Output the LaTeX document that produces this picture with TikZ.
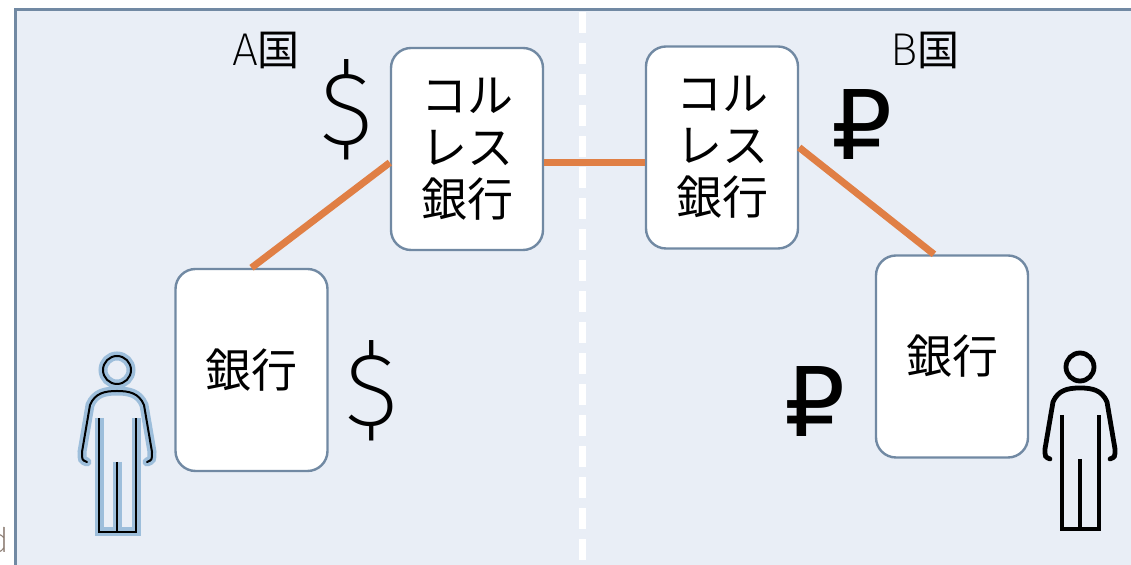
\documentclass[tikz,border=0pt]{standalone}
\usepackage{fontspec}
\setmainfont{Noto Sans CJK JP}
\newfontfamily\rublefont{DejaVu Sans}
\newfontfamily\thinfont{Fira Sans}[UprightFont=* ExtraLight]
\usepackage{tikz}
\usepackage{xcolor}
\definecolor{panelfill}{HTML}{E9EEF6}
\definecolor{panelline}{HTML}{7189A3}
\definecolor{linkorange}{HTML}{E07F45}
\definecolor{glowblue}{HTML}{9DBEDB}
\definecolor{cutgrey}{HTML}{8A7A70}
\tikzset{
  bankbox/.style={draw=panelline, line width=1.2pt, fill=white, rounded corners=10pt,
    minimum width=76pt, minimum height=101pt, align=center,
    font=\fontsize{23}{26}\selectfont},
  link/.style={linkorange, line width=3.5pt},
  money/.style={inner sep=0pt, font=\thinfont\fontsize{52}{52}\selectfont},
  ruble/.style={inner sep=0pt, font=\rublefont\fontsize{48}{48}\selectfont},
  country/.style={inner sep=0pt, font=\fontsize{21}{21}\selectfont}
}
\newcommand{\personpath}[1]{
  \draw[#1] (0,0) circle (14);
  \draw[#1, line cap=round] (-30,92) .. controls (-35,90) .. (-35,82) -- (-27,35)
    .. controls (-22,23) and (-12,21) .. (0,21) .. controls (12,21) and (22,23) .. (27,35)
    -- (35,82) .. controls (35,90) .. (30,92);
  \draw[#1] (-18,48) -- (-18,162) -- (19,162) -- (19,48);
  \draw[#1] (0,92) -- (0,162);
}
\begin{document}
\begin{tikzpicture}[x=0.5pt, y=-0.5pt]
  \useasboundingbox (0,0) rectangle (1131,565);
  \clip (0,0) rectangle (1131,565);
  \fill[white] (0,0) rectangle (1131,565);
  \draw[panelline, line width=1.5pt, fill=panelfill] (15,600) -- (15,10) -- (1160,10) -- (1160,600) -- cycle;
  \draw[white, line width=3.5pt, dash pattern=on 10.5pt off 5pt] (582,12) -- (582,565);

  \node (cut) [anchor=east, inner sep=0pt, text=cutgrey, font=\thinfont\fontsize{17}{17}\selectfont] at (9,540) {d};
  \node (landA) [country] at (266,50) {{\thinfont\fontsize{23}{23}\selectfont A}国};
  \node (landB) [country] at (925,50) {{\thinfont\fontsize{23}{23}\selectfont B}国};

  \node (corA) [bankbox] at (467,149) {コル\\レス\\銀行};
  \node (corB) [bankbox] at (722,147.5) {コル\\レス\\銀行};
  \node (bankA) [bankbox] at (251.5,370) {銀行};
  \node (bankB) [bankbox] at (952,356.5) {銀行};

  \draw[link] (bankA.north) -- (corA.190);
  \draw[link] (corA.350) -- (corA.350 -| corB.west);
  \draw[link] (corB.east) -- (bankB.100);

  \node (dollarA) [money] at (347,110) {\$};
  \node (dollarB) [money] at (372,391) {\$};
  \node (rubleA) [ruble] at (862,125) {₽};
  \node (rubleB) [ruble] at (815,402) {₽};

  \begin{scope}[shift={(117,370)}]
    \personpath{glowblue, line width=4.5pt}
    \personpath{black, line width=1pt}
  \end{scope}
  \begin{scope}[shift={(1080,367)}]
    \personpath{black, line width=2.4pt}
  \end{scope}
\end{tikzpicture}
\end{document}
